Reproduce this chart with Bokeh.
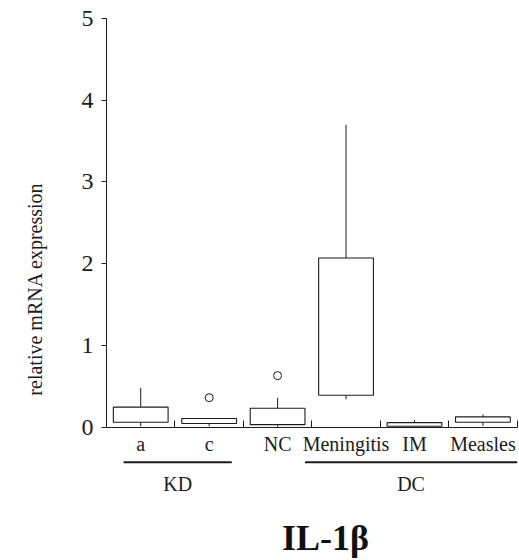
import numpy as np
from bokeh.plotting import figure
from bokeh.models import Range1d, FixedTicker, ColumnDataSource
from bokeh.core.properties import value
from bokeh.embed import file_html
from bokeh.resources import INLINE

# ---- data ----
categories = ["a", "c", "NC", "Meningitis", "IM", "Measles"]
lower_whisker = [0.01, 0.01, 0.005, 0.34, 0.01, 0.015]
q1 = [0.06, 0.045, 0.03, 0.39, 0.01, 0.06]
median = [0.11, 0.05, 0.05, 0.42, 0.03, 0.095]
q3 = [0.245, 0.105, 0.23, 2.07, 0.055, 0.125]
upper_whisker = [0.48, 0.105, 0.36, 3.70, 0.085, 0.155]
outlier_category = ["c", "NC"]
outlier_value = [0.36, 0.63]
groups = ["KD", "DC"]
group_first = ["a", "Meningitis"]
group_last = ["c", "Measles"]
y_ticks = [0, 1, 2, 3, 4, 5]
y_label = "relative mRNA expression"
chart_title = "IL-1\u03b2"

FONT = "Liberation Serif"
INK = "#1c1c1c"

idx = {c: i for i, c in enumerate(categories)}
xc = np.arange(len(categories)) + 0.5

p = figure(width=519, height=560, output_backend="svg", toolbar_location=None,
           x_range=Range1d(0, 6.02), y_range=Range1d(-1.62, 5.0),
           min_border_left=106, min_border_right=1, min_border_top=18,
           min_border_bottom=1)
p.outline_line_color = None
p.grid.visible = False
p.background_fill_color = "white"

# y axis
ya = p.yaxis[0]
ya.bounds = (0, 5)
ya.ticker = FixedTicker(ticks=y_ticks)
ya.minor_tick_line_color = None
ya.major_tick_in = 0
ya.major_tick_out = 5
ya.axis_line_color = INK
ya.major_tick_line_color = INK
ya.major_label_text_font = FONT
ya.major_label_text_font_size = "24px"
ya.major_label_text_color = INK
ya.major_label_standoff = 8
ya.axis_label = y_label
ya.axis_label_text_font = FONT
ya.axis_label_text_font_style = "normal"
ya.axis_label_text_font_size = "20px"
ya.axis_label_text_color = INK
ya.axis_label_standoff = 33

# x axis at y = 0
xa = p.xaxis[0]
xa.fixed_location = 0
xa.bounds = (0, 6)
xa.ticker = FixedTicker(ticks=[1, 2, 3, 4, 5, 6])
xa.minor_tick_line_color = None
xa.major_tick_in = 7
xa.major_tick_out = 0
xa.axis_line_color = INK
xa.major_tick_line_color = INK
xa.major_label_text_font_size = "0px"
xa.major_label_text_color = None

# boxes
src = ColumnDataSource(dict(x=xc, lo=lower_whisker, q1=q1, med=median, q3=q3, hi=upper_whisker))
bw = 0.8
cw = 0.18
p.segment(x0="x", y0="q3", x1="x", y1="hi", source=src, line_color=INK, line_width=1)
p.segment(x0="x", y0="lo", x1="x", y1="q1", source=src, line_color=INK, line_width=1)
p.vbar(x="x", width=bw, bottom="q1", top="q3", source=src, fill_color="white",
       line_color=INK, line_width=1.1)
p.rect(x="x", y="med", width=bw, height=0.0, source=src, line_color="#666666", line_width=1)
p.rect(x="x", y="hi", width=cw, height=0.0, source=src, line_color=INK, line_width=1)
p.rect(x="x", y="lo", width=cw, height=0.0, source=src, line_color=INK, line_width=1)

# outliers
ox = [idx[c] + 0.5 for c in outlier_category]
p.scatter(ox, outlier_value, size=8, marker="circle", fill_color="white",
          line_color=INK, line_width=1)

# category labels
p.text(x=xc, y=[-0.21] * len(categories), text=categories, text_align="center",
       text_baseline="alphabetic", text_font=value(FONT), text_font_size="20px",
       text_color=INK)

# group lines and labels
g0 = [idx[c] + 0.25 if i == 0 else idx[c] - 0.1 for i, c in enumerate(group_first)]
g1 = [idx[c] + 0.83 if i == 0 else idx[c] + 1.0 for i, c in enumerate(group_last)]
p.segment(x0=g0, y0=[-0.43] * 2, x1=g1, y1=[-0.43] * 2, line_color=INK, line_width=2)
p.text(x=[(a + b) / 2 for a, b in zip(g0, g1)], y=[-0.70] * 2, text=groups,
       text_align="center", text_baseline="alphabetic", text_font=value(FONT),
       text_font_size="20px", text_color=INK)

# title below chart
p.text(x=[3.2], y=[-1.36], text=[chart_title], text_align="center",
       text_baseline="alphabetic", text_font=value(FONT), text_font_size="36px",
       text_font_style="bold", text_color="#111111")

open("out.html", "w").write(file_html(p, INLINE))
